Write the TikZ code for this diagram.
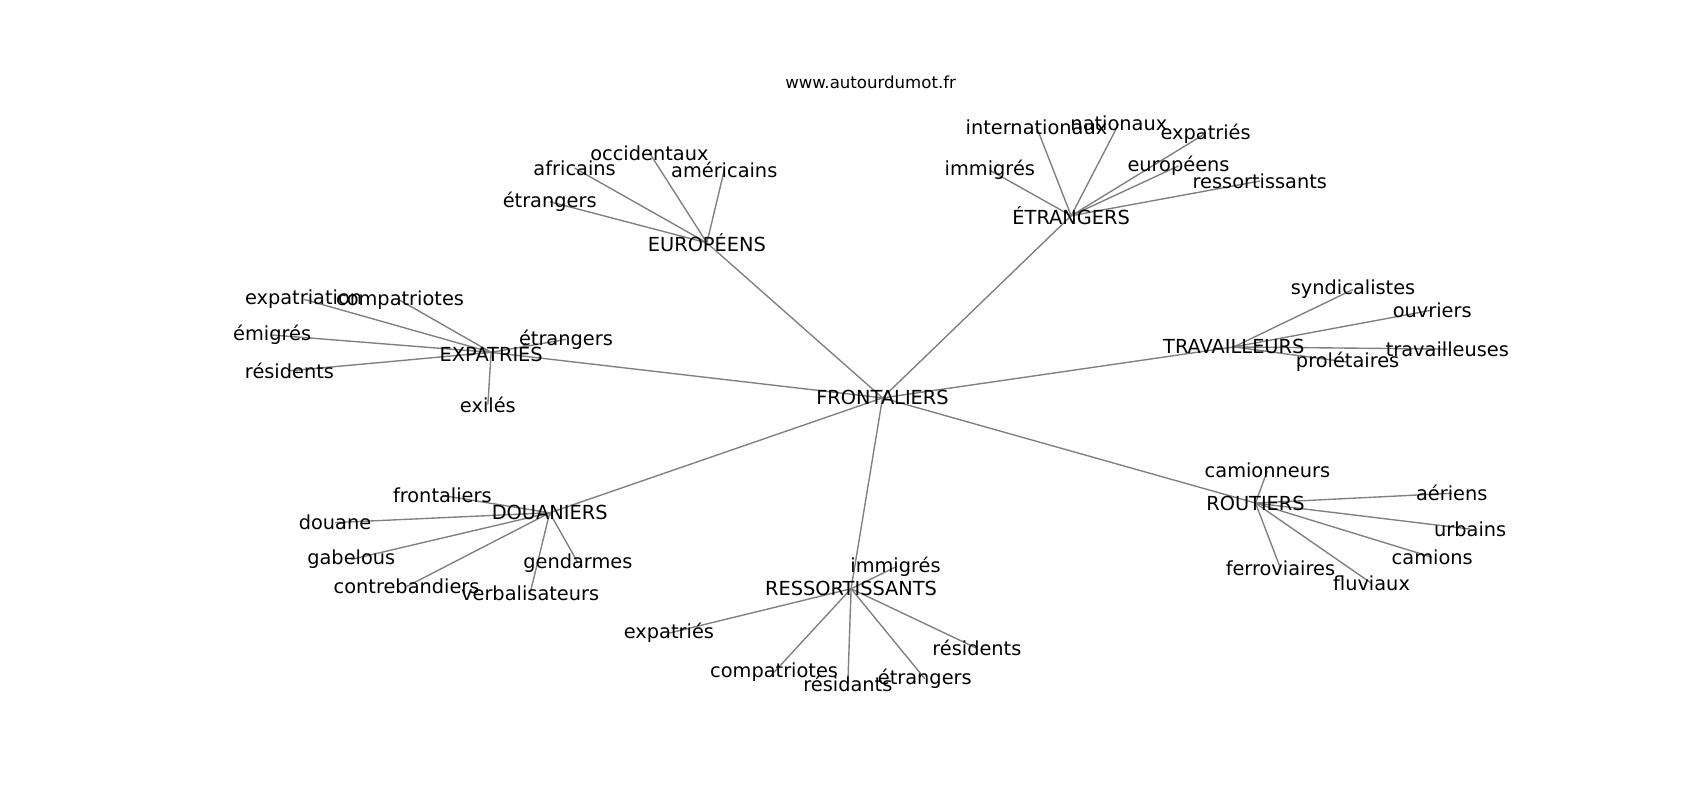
\documentclass[tikz,border=0pt]{standalone}
\usepackage{fontspec}
\setmainfont{DejaVu Sans}
\usepackage{tikz}
\usetikzlibrary{backgrounds}

\begin{document}
\begin{tikzpicture}[x=0.010842in, y=-0.010842in,
    word/.style={inner sep=0pt, font=\fontsize{14}{16}\selectfont},
    link/.style={draw=gray, line width=1pt}]
    \useasboundingbox (0,0) rectangle (1568,738);
    \node (site) [inner sep=0pt, font=\fontsize{12}{14}\selectfont] at (803,76) {www.autourdumot.fr};

    \node (fr) [word] at (814,367) {FRONTALIERS};

    \node (eu) [word] at (652,224) {EUROPÉENS};
    \node (euEtr) [word] at (507,186) {étrangers};
    \node (euAfr) [word] at (530,155) {africains};
    \node (euOcc) [word] at (599,141) {occidentaux};
    \node (euAme) [word] at (668,157) {américains};

    \node (et) [word] at (988,199) {ÉTRANGERS};
    \node (etImm) [word] at (913,157) {immigrés};
    \node (etInt) [word] at (956,117) {internationaux};
    \node (etNat) [word] at (1032,114) {nationaux};
    \node (etExp) [word] at (1112,123) {expatriés};
    \node (etEur) [word] at (1087,153) {européens};
    \node (etRes) [word] at (1162,167) {ressortissants};

    \node (ex) [word] at (453,325) {EXPATRIÉS};
    \node (exExp) [word] at (280,276) {expatriation};
    \node (exCom) [word] at (369,277) {compatriotes};
    \node (exEmi) [word] at (251,309) {émigrés};
    \node (exEtr) [word] at (522,313) {étrangers};
    \node (exRes) [word] at (267,342) {résidents};
    \node (exExi) [word] at (450,373) {exilés};

    \node (tr) [word] at (1138,320) {TRAVAILLEURS};
    \node (trSyn) [word] at (1248,267) {syndicalistes};
    \node (trOuv) [word] at (1321,286) {ouvriers};
    \node (trTra) [word] at (1335,322) {travailleuses};
    \node (trPro) [word] at (1243,334) {prolétaires};

    \node (do) [word] at (507,473) {DOUANIERS};
    \node (doFro) [word] at (408,457) {frontaliers};
    \node (doDou) [word] at (309,482) {douane};
    \node (doGab) [word] at (324,516) {gabelous};
    \node (doCon) [word] at (375,541) {contrebandiers};
    \node (doVer) [word] at (489,547) {verbalisateurs};
    \node (doGen) [word] at (533,519) {gendarmes};

    \node (re) [word] at (785,543) {RESSORTISSANTS};
    \node (reImm) [word] at (826,523) {immigrés};
    \node (reExp) [word] at (617,584) {expatriés};
    \node (reCom) [word] at (714,620) {compatriotes};
    \node (reRes) [word] at (782,631) {résidants};
    \node (reEtr) [word] at (853,626) {étrangers};
    \node (reRsd) [word] at (901,598) {résidents};

    \node (ro) [word] at (1158,464) {ROUTIERS};
    \node (roCam) [word] at (1169,434) {camionneurs};
    \node (roAer) [word] at (1339,455) {aériens};
    \node (roUrb) [word] at (1356,488) {urbains};
    \node (roCms) [word] at (1321,514) {camions};
    \node (roFer) [word] at (1181,524) {ferroviaires};
    \node (roFlu) [word] at (1265,538) {fluviaux};

    \begin{scope}[on background layer]
        \foreach \a/\b in {fr/eu, fr/et, fr/ex, fr/tr, fr/do, fr/re, fr/ro,
            eu/euEtr, eu/euAfr, eu/euOcc, eu/euAme,
            et/etImm, et/etInt, et/etNat, et/etExp, et/etEur, et/etRes,
            ex/exExp, ex/exCom, ex/exEmi, ex/exEtr, ex/exRes, ex/exExi,
            tr/trSyn, tr/trOuv, tr/trTra, tr/trPro,
            do/doFro, do/doDou, do/doGab, do/doCon, do/doVer, do/doGen,
            re/reImm, re/reExp, re/reCom, re/reRes, re/reEtr, re/reRsd,
            ro/roCam, ro/roAer, ro/roUrb, ro/roCms, ro/roFer, ro/roFlu}
            \draw[link] (\a.center) -- (\b.center);
    \end{scope}
\end{tikzpicture}
\end{document}
